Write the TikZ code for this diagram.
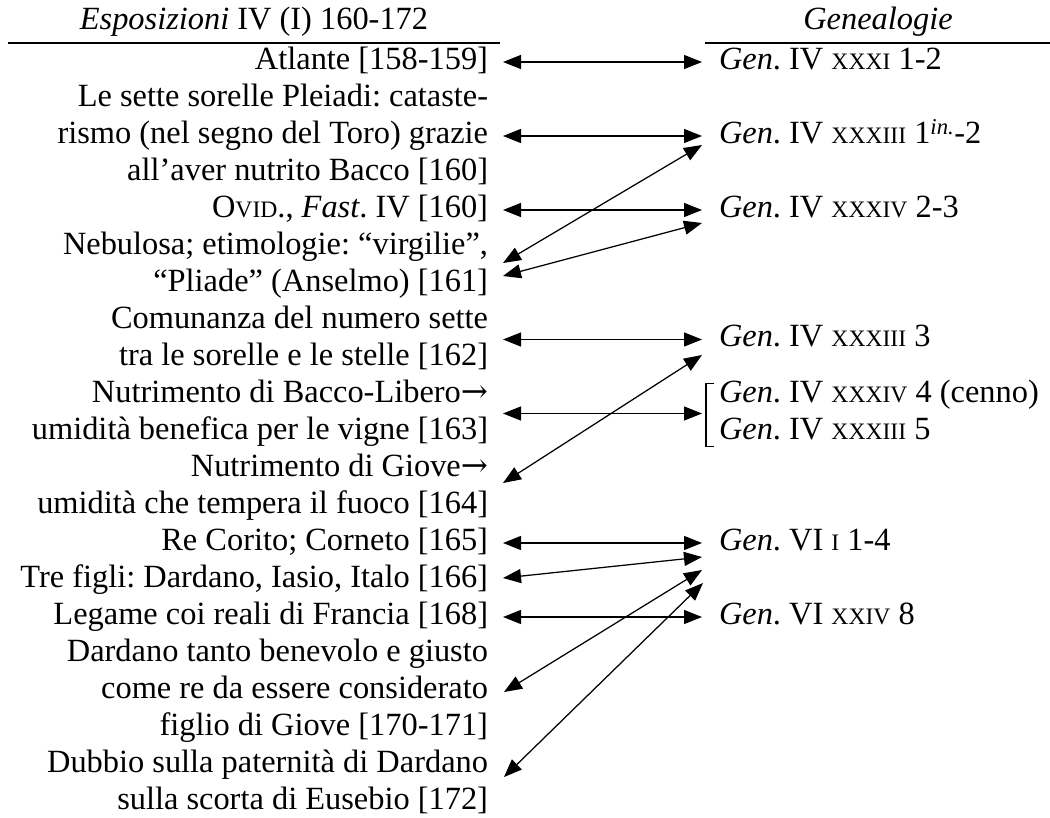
\documentclass[tikz,border=0pt]{standalone}
\usepackage{fontspec}
\setmainfont{Liberation Serif}
\newfontfamily\arrowfont{DejaVu Serif}
\usetikzlibrary{arrows.meta,calc}
\newcommand\fsc[1]{{\fontsize{23.6}{37}\selectfont #1}}
\newcommand\rarr{{\arrowfont →}}
\frenchspacing
\begin{document}
\begin{tikzpicture}[x=1pt,y=-1pt,
 every node/.style={inner sep=0pt, outer sep=0pt, font=\fontsize{32.4}{37}\selectfont},
 lefttxt/.style={anchor=east, align=right},
 righttxt/.style={anchor=west, align=left},
 head/.style={anchor=center},
 link/.style={line width=1.25pt, {Triangle[length=18pt,width=14pt]}-{Triangle[length=18pt,width=14pt]}},
 rule/.style={line width=1.6pt},
 bracket/.style={line width=1.1pt},
]
\useasboundingbox (0,0) rectangle (1050,817);

% headers
\node[head] (hL) at (254,22) {\strut\textit{Esposizioni} IV (I) 160-172\strut};
\node[head] (hR) at (878,22) {\strut\textit{Genealogie}\strut};
\coordinate (rL1) at (8,43);  \coordinate (rL2) at (500,43);
\coordinate (rR1) at (705,43); \coordinate (rR2) at (1050,43);
\draw[rule] (rL1) -- (rL2);
\draw[rule] (rR1) -- (rR2);

% left column
\node[lefttxt] (E1) at (488,62) {\strut Atlante [158-159]\strut};
\node[lefttxt] (E2) at (488,136) {\strut Le sette sorelle Pleiadi: cataste-\\rismo (nel segno del Toro) grazie\\all’aver nutrito Bacco [160]\strut};
\node[lefttxt] (E3) at (488,210) {\strut O\fsc{VID}., \textit{Fast}. IV [160]\strut};
\node[lefttxt] (E4) at (488,265.5) {\strut Nebulosa; etimologie: “virgilie”,\\“Pliade” (Anselmo) [161]\strut};
\node[lefttxt] (E5) at (488,339.5) {\strut Comunanza del numero sette\\tra le sorelle e le stelle [162]\strut};
\node[lefttxt] (E6) at (488,413.5) {\strut Nutrimento di Bacco-Libero\rarr\\umidità benefica per le vigne [163]\strut};
\node[lefttxt] (E7) at (488,487.5) {\strut Nutrimento di Giove\rarr\\umidità che tempera il fuoco [164]\strut};
\node[lefttxt] (E8) at (488,543) {\strut Re Corito; Corneto [165]\strut};
\node[lefttxt] (E9) at (488,580) {\strut Tre figli: Dardano, Iasio, Italo [166]\strut};
\node[lefttxt] (E10) at (488,617) {\strut Legame coi reali di Francia [168]\strut};
\node[lefttxt] (E11) at (488,691) {\strut Dardano tanto benevolo e giusto\\come re da essere considerato\\figlio di Giove [170-171]\strut};
\node[lefttxt] (E12) at (488,783.5) {\strut Dubbio sulla paternità di Dardano\\sulla scorta di Eusebio [172]\strut};

% right column
\node[righttxt] (G1) at (719,62) {\strut\textit{Gen}. IV \fsc{XXXI} 1-2\strut};
\node[righttxt] (G2) at (719,136) {\strut\textit{Gen}. IV \fsc{XXXIII} 1\textsuperscript{\textit{in.}}-2\strut};
\node[righttxt] (G3) at (719,210) {\strut\textit{Gen}. IV \fsc{XXXIV} 2-3\strut};
\node[righttxt] (G4) at (719,339.5) {\strut\textit{Gen}. IV \fsc{XXXIII} 3\strut};
\node[righttxt] (G5) at (719,413.5) {\strut\textit{Gen}. IV \fsc{XXXIV} 4 (cenno)\\\textit{Gen}. IV \fsc{XXXIII} 5\strut};
\node[righttxt] (G6) at (719,543) {\strut\textit{Gen}. VI \fsc{I} 1-4\strut};
\node[righttxt] (G7) at (719,617) {\strut\textit{Gen}. VI \fsc{XXIV} 8\strut};

% bracket
\draw[bracket] ($(G5.north west)+(-5,7)$) -- ($(G5.north west)+(-13,7)$)
  -- ($(G5.south west)+(-13,-4)$) -- ($(G5.south west)+(-5,-4)$);

% connectors
\draw[link] ($(E1.east)+(15,0)$) -- ($(G1.west)+(-17,0)$);
\draw[link] ($(E2.east)+(15,0)$) -- ($(G2.west)+(-17,0)$);
\draw[link] ($(E3.east)+(15,0)$) -- ($(G3.west)+(-17,0)$);
\draw[link] ($(E4.east)+(15,-2.5)$) -- ($(G2.west)+(-17,9)$);
\draw[link] ($(E4.east)+(15,10.5)$) -- ($(G3.west)+(-17,13)$);
\draw[link] ($(E5.east)+(15,0)$) -- ($(G4.west)+(-17,0)$);
\draw[link] ($(E6.east)+(15,0)$) -- ($(G5.west)+(-17,0)$);
\draw[link] ($(E7.east)+(15,-4.5)$) -- ($(G4.west)+(-17,15.5)$);
\draw[link] ($(E8.east)+(15,0)$) -- ($(G6.west)+(-17,0)$);
\draw[link] ($(E9.east)+(15,-2)$) -- ($(G6.west)+(-17,14)$);
\draw[link] ($(E10.east)+(15,0)$) -- ($(G7.west)+(-17,0)$);
\draw[link] ($(E11.east)+(16,1)$) -- ($(G6.west)+(-17,27)$);
\draw[link] ($(E12.east)+(16,-6.5)$) -- ($(G6.west)+(-16,40)$);
\end{tikzpicture}
\end{document}
